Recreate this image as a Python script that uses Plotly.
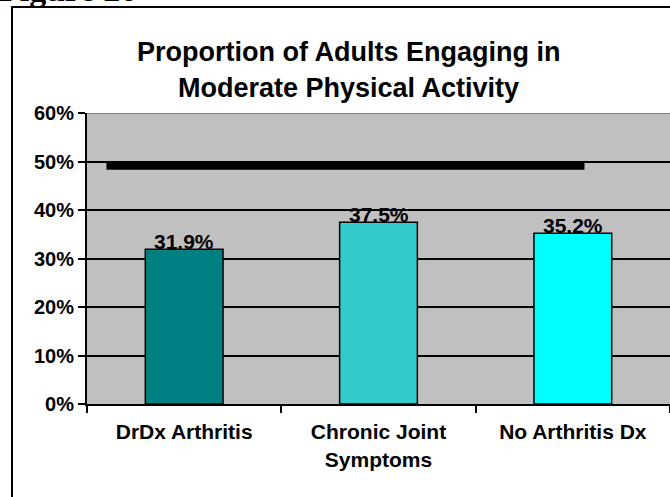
import plotly.graph_objects as go

# Data
CATEGORIES = ["DrDx Arthritis", "Chronic Joint<br>Symptoms", "No Arthritis Dx"]
VALUES = [0.319, 0.375, 0.352]
LABELS = ["31.9%", "37.5%", "35.2%"]
BAR_COLORS = ["#008080", "#33CCCC", "#00FFFF"]
TARGET = 0.49  # thick benchmark line
Y_TICKS = [0, 0.1, 0.2, 0.3, 0.4, 0.5, 0.6]
Y_TICK_TEXT = ["0%", "10%", "20%", "30%", "40%", "50%", "60%"]

W, H = 670, 497
M_L, M_R, M_T, M_B = 87, 0, 113, 93
PLOT_W = W - M_L - M_R
PLOT_H = H - M_T - M_B

FONT = "Liberation Sans, Arial, sans-serif"
PLOT_BG = "#C0C0C0"


def px_x(p):
    return (p - M_L) / PLOT_W


def px_y(p):
    return (H - M_B - p) / PLOT_H


fig = go.Figure()
fig.add_trace(go.Bar(
    x=CATEGORIES, y=VALUES,
    width=0.4,
    marker=dict(color=BAR_COLORS, line=dict(color="black", width=1.5)),
    hoverinfo="skip", showlegend=False,
))

annotations = []
for cat, val, lab in zip(CATEGORIES, VALUES, LABELS):
    annotations.append(dict(
        x=cat, y=val, xref="x", yref="y", text=f"<b>{lab}</b>",
        showarrow=False, yanchor="bottom", yshift=-6,
        font=dict(family=FONT, size=21, color="black"),
    ))

# title as two separate lines
annotations += [
    dict(x=px_x(348), y=px_y(52), xref="paper", yref="paper",
         xanchor="center", yanchor="middle",
         text="<b>Proportion of Adults Engaging in</b>", showarrow=False,
         font=dict(family=FONT, size=27, color="black")),
    dict(x=px_x(348), y=px_y(88), xref="paper", yref="paper",
         xanchor="center", yanchor="middle",
         text="<b>Moderate Physical Activity</b>", showarrow=False,
         font=dict(family=FONT, size=27, color="black")),
    # page heading, mostly scrolled off the top in the reference
    dict(x=px_x(-3), y=px_y(-10), xref="paper", yref="paper",
         xanchor="left", yanchor="middle",
         text="<b>Figure 20</b>", showarrow=False,
         font=dict(family="Liberation Serif, Times New Roman, serif", size=34, color="black")),
]

shapes = [
    # outer chart border
    dict(type="rect", xref="paper", yref="paper",
         x0=px_x(12), x1=px_x(680), y0=px_y(7), y1=px_y(510),
         line=dict(color="black", width=2), layer="above"),
    # gray top edge of plot area
    dict(type="line", xref="paper", yref="y", x0=0, x1=1, y0=0.6, y1=0.6,
         line=dict(color="#808080", width=2), layer="below"),
    # benchmark line
    dict(type="line", xref="x", yref="y", x0=-0.4, x1=2.06, y0=TARGET, y1=TARGET,
         line=dict(color="black", width=7), layer="below"),
]

fig.update_layout(
    width=W, height=H,
    margin=dict(l=M_L, r=M_R, t=M_T, b=M_B, autoexpand=False),
    paper_bgcolor="white",
    plot_bgcolor=PLOT_BG,
    annotations=annotations,
    shapes=shapes,
    xaxis=dict(
        type="category",
        tickson="boundaries",
        ticks="outside", ticklen=7, tickwidth=2, tickcolor="black",
        showline=True, linecolor="black", linewidth=2,
        showgrid=False, zeroline=False,
        tickfont=dict(family=FONT, size=21, color="black"),
        ticklabelstandoff=8,
        range=[-0.5, 2.5],
    ),
    yaxis=dict(
        range=[0, 0.6],
        tickvals=Y_TICKS, ticktext=[f"<b>{t}</b>" for t in Y_TICK_TEXT],
        ticks="outside", ticklen=7, tickwidth=2, tickcolor="black",
        showline=True, linecolor="black", linewidth=2,
        showgrid=True, gridcolor="black", gridwidth=2,
        zeroline=False,
        tickfont=dict(family=FONT, size=20, color="black"),
    ),
)
fig.update_xaxes(ticktext=[f"<b>{c}</b>" for c in CATEGORIES], tickvals=CATEGORIES)

# page body has a default 8px margin; drop it so the figure sits at the window's corner
fig.write_html("out.html", config={"displayModeBar": False},
               post_script="document.body.style.margin='0px';")
